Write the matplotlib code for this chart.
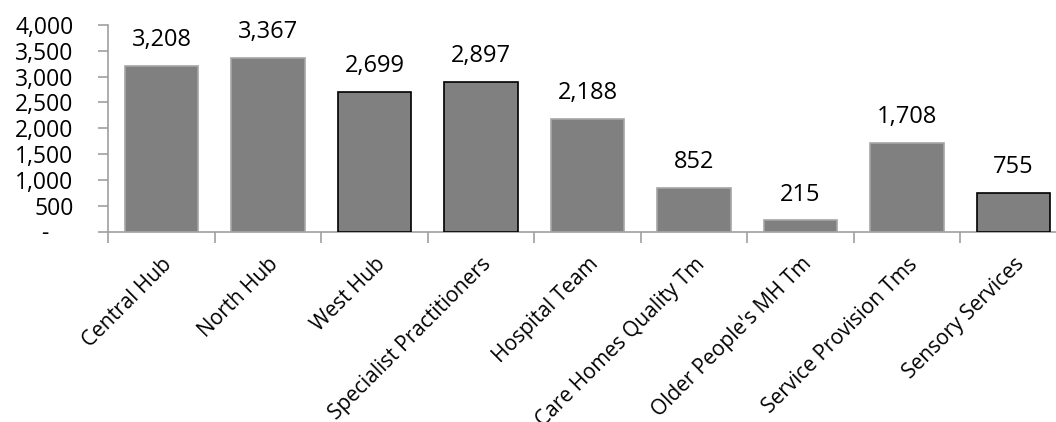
import matplotlib
matplotlib.use("Agg")
import matplotlib.pyplot as plt
import matplotlib.transforms as mtransforms
from matplotlib.ticker import FuncFormatter, MultipleLocator

categories = ["Central Hub", "North Hub", "West Hub", "Specialist Practitioners",
              "Hospital Team", "Care Homes Quality Tm", "Older People's MH Tm",
              "Service Provision Tms", "Sensory Services"]
values = [3208, 3367, 2699, 2897, 2188, 852, 215, 1708, 755]
outlined = [False, False, True, True, False, False, False, False, True]

plt.rcParams['font.family'] = ['Open Sans', 'DejaVu Sans']

fig = plt.figure(figsize=(10.56, 4.22), dpi=100)
W, H = 1056, 422
left, right, top, bottom = 108.25, 1066.75, 25, 231.5
ax = fig.add_axes([left / W, 1 - bottom / H, (right - left) / W, (bottom - top) / H])

x = list(range(len(categories)))
edges = ['black' if o else '#a6a6a6' for o in outlined]
bars = ax.bar(x, values, width=0.69, color='#808080', edgecolor=edges, linewidth=1.2, zorder=3)

for xi, v in zip(x, values):
    ax.annotate(f"{v:,}", (xi, v), xytext=(0, 10), textcoords='offset points',
                ha='center', va='bottom', fontsize=17, color='black')

ax.set_xlim(-0.5, len(categories) - 0.5)
ax.set_ylim(0, 4000)
ax.yaxis.set_major_locator(MultipleLocator(500))
ax.yaxis.set_major_formatter(FuncFormatter(lambda v, p: "-    " if v == 0 else f"{int(v):,}"))

for s in ['top', 'right']:
    ax.spines[s].set_visible(False)
for s in ['left', 'bottom']:
    ax.spines[s].set_color('#a0a0a0')
    ax.spines[s].set_linewidth(1.2)

ax.set_xticks([i - 0.5 for i in range(len(categories) + 1)], minor=False)
ax.set_xticklabels([])
ax.set_xticks(x, minor=True)
labels = ax.set_xticklabels(categories, minor=True, rotation=45, ha='right', va='top',
                            rotation_mode='anchor', fontsize=15)
shift = mtransforms.ScaledTranslation(-4 / 72, 0, fig.dpi_scale_trans)
for lab in labels:
    lab.set_transform(lab.get_transform() + shift)
ax.tick_params(axis='x', which='major', length=8, width=1.2, color='#a0a0a0', direction='out')
ax.tick_params(axis='x', which='minor', length=0, pad=16)
ax.tick_params(axis='y', length=7, width=1.2, color='#a0a0a0', labelsize=16.5, pad=18)

fig.savefig("out.png", dpi=100)
